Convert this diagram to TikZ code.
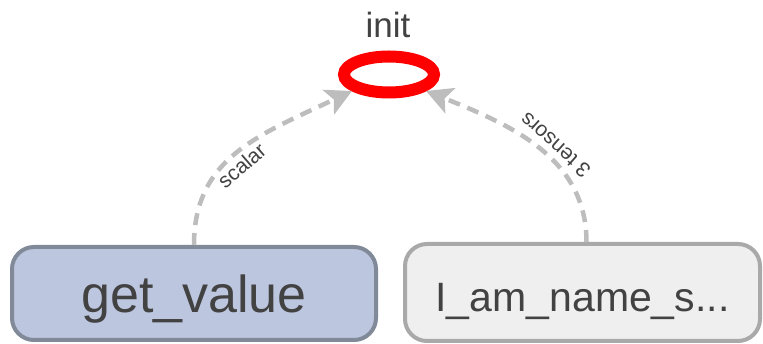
\documentclass[tikz,border=0pt]{standalone}
\usepackage{fontspec}
\setmainfont{Liberation Sans}
\usetikzlibrary{arrows.meta,shapes.geometric}
\definecolor{edgegray}{HTML}{BDBDBD}
\definecolor{txtgray}{HTML}{424242}
\definecolor{bluefill}{HTML}{BDC6DF}
\definecolor{blueborder}{HTML}{818A99}
\definecolor{grayfill}{HTML}{EFEFEF}
\definecolor{grayborder}{HTML}{A9A9A9}
\begin{document}
\begin{tikzpicture}[x=1pt,y=-1pt,
  opbox/.style={rounded corners=22pt, line width=4pt, inner sep=0pt,
    text=txtgray, text height=39pt, text depth=0pt},
  flow/.style={draw=edgegray, line width=4.5pt, dash pattern=on 12pt off 8pt,
    -{Stealth[length=26pt,width=27pt,inset=6pt,fill=edgegray]}},
  flowlabel/.style={sloped, allow upside down, below, inner sep=3pt,
    font=\fontsize{21}{23}\selectfont, text=txtgray}]

\path[use as bounding box] (0,0) rectangle (763,344);

% operation boxes
\node[opbox, minimum width=364pt, minimum height=93pt, fill=bluefill, draw=blueborder,
  font=\fontsize{52}{60}\selectfont] (gv) at (194,293.5) {get\_value};
\node[opbox, minimum width=355pt, minimum height=97pt, fill=grayfill, draw=grayborder,
  font=\fontsize{41}{48}\selectfont] (ib) at (582.5,292.5) {I\_am\_name\_s...};

% init op: red ring with its caption
\node[ellipse, draw=red, line width=12pt, minimum width=90pt, minimum height=36pt,
  inner sep=0pt] (init) at (389,74.5) {};
\node[font=\fontsize{35}{40}\selectfont, text=txtgray, anchor=base] (initlabel)
  at (388,38) {init};

% data flow edges
\draw[flow] (gv.north) .. controls +(0,-87) and +(-93,44) .. (init.204)
  node[flowlabel, pos=0.47] {scalar};
\draw[flow] ([xshift=4pt]ib.north) .. controls +(0,-84) and +(85,34) .. (init.336)
  node[flowlabel, pos=0.45] {3 tensors};
\end{tikzpicture}
\end{document}
